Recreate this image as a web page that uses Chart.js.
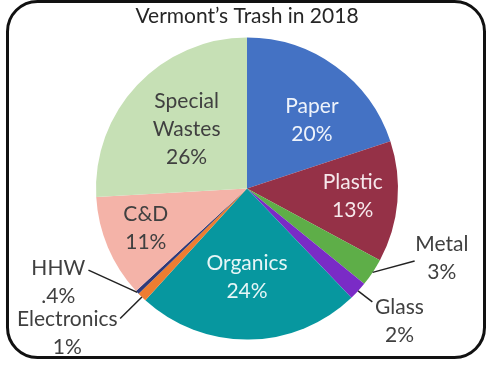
<!DOCTYPE html>
<html>
<head>
<meta charset="utf-8">
<script src="https://cdn.jsdelivr.net/npm/chart.js@4.4.0/dist/chart.umd.min.js"></script>
<style>
  body { margin: 0; background: #fff; }
  canvas { display: block; }
</style>
</head>
<body>
<canvas id="grafico" width="501" height="368"></canvas>
<script>
// dados
const categorias = ['Paper', 'Plastic', 'Metal', 'Glass', 'Organics', 'Electronics', 'HHW', 'C&D', 'Special Wastes'];
const valores = [20, 13, 3, 2, 24, 1, 0.4, 11, 26];
const rotulos = ['20%', '13%', '3%', '2%', '24%', '1%', '.4%', '11%', '26%'];

const cores = ['#4472C4', '#953147', '#5EAE48', '#7A2BC6', '#07979F', '#ED7D31', '#2F3A7A', '#F4B3A8', '#C6E0B5'];

// posição dos rótulos em unidades do raio (dx, dy a partir do centro); linha = rótulo externo
const posRotulos = [
  { dx: 0.43, dy: -0.45, cor: '#eef3fb' },
  { dx: 0.70, dy: 0.05, cor: '#f6e8eb' },
  { dx: 1.29, dy: 0.46, cor: '#404040', linha: [1.11, 0.48] },
  { dx: 1.01, dy: 0.88, cor: '#404040', linha: [0.83, 0.75] },
  { dx: 0.0, dy: 0.59, cor: '#e6f6f7' },
  { dx: -1.19, dy: 0.96, cor: '#404040', linha: [-0.84, 0.86] },
  { dx: -1.25, dy: 0.62, cor: '#404040', linha: [-1.05, 0.54] },
  { dx: -0.67, dy: 0.26, cor: '#404040' },
  { dx: -0.40, dy: -0.39, cor: '#404040' }
];

const fonte = "Lato, 'Open Sans', sans-serif";

const moldura = {
  id: 'moldura',
  beforeDraw(chart) {
    const c = chart.ctx;
    c.save();
    c.fillStyle = '#fff';
    c.fillRect(0, 0, chart.width, chart.height);
    c.lineWidth = 3;
    c.strokeStyle = '#111';
    c.beginPath();
    c.roundRect(7.5, 1.5, 477, 356, 30);
    c.stroke();
    c.restore();
  }
};

const rotulosPlugin = {
  id: 'rotulosPlugin',
  afterDatasetsDraw(chart) {
    const c = chart.ctx;
    const arcos = chart.getDatasetMeta(0).data;
    c.save();
    c.font = '21px ' + fonte;
    c.textAlign = 'center';
    c.textBaseline = 'middle';
    arcos.forEach((arco, i) => {
      const p = posRotulos[i];
      const r = arco.outerRadius;
      const cx = arco.x, cy = arco.y;
      const linhas = categorias[i] === 'Special Wastes' ? ['Special', 'Wastes', rotulos[i]] : [categorias[i], rotulos[i]];
      if (p.linha) {
        const meio = (arco.startAngle + arco.endAngle) / 2;
        c.strokeStyle = '#222';
        c.lineWidth = 1.5;
        c.beginPath();
        c.moveTo(cx + r * Math.cos(meio), cy + r * Math.sin(meio));
        c.lineTo(cx + p.linha[0] * r, cy + p.linha[1] * r);
        c.stroke();
      }
      c.fillStyle = p.cor;
      const alt = 28;
      const y0 = cy + p.dy * r - (linhas.length - 1) * alt / 2;
      linhas.forEach((t, k) => c.fillText(t, cx + p.dx * r, y0 + k * alt));
    });
    c.restore();
  }
};

new Chart(document.getElementById('grafico'), {
  type: 'pie',
  data: {
    labels: categorias,
    datasets: [{
      data: valores,
      backgroundColor: cores,
      borderWidth: 0
    }]
  },
  options: {
    responsive: false,
    animation: false,
    layout: { padding: { top: 0, bottom: 28, left: 96, right: 103 } },
    plugins: {
      legend: { display: false },
      tooltip: { enabled: false },
      title: {
        display: true,
        text: 'Vermont’s Trash in 2018',
        color: '#262626',
        font: { family: fonte, size: 21, weight: 'normal' },
        padding: { top: 4, bottom: 8 }
      }
    }
  },
  plugins: [moldura, rotulosPlugin]
});
</script>
</body>
</html>
